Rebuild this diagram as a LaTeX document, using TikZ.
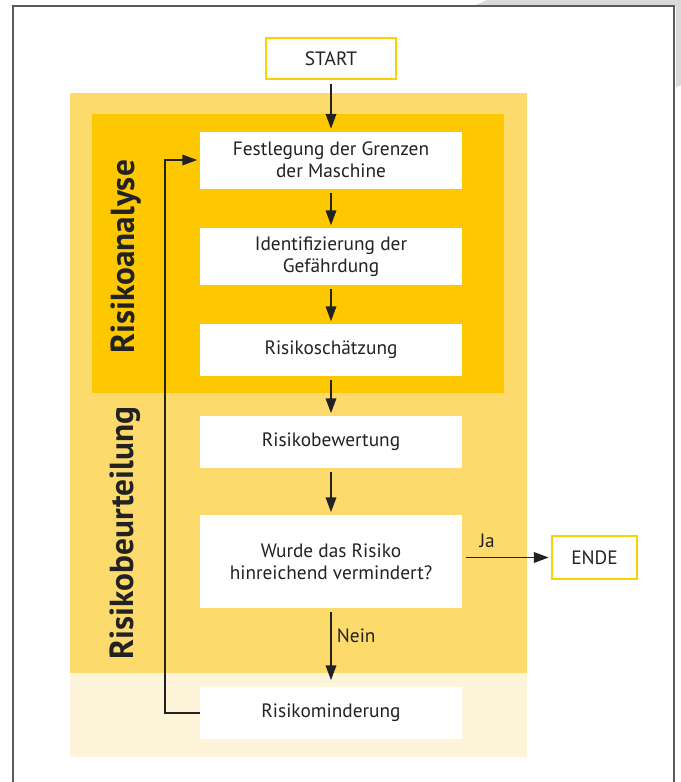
\documentclass[tikz,border=0pt]{standalone}
\usepackage{fontspec}
\setmainfont{PT Sans}
\usetikzlibrary{arrows.meta}

\definecolor{hell}{HTML}{FDDA6C}
\definecolor{dunkel}{HTML}{FDC800}
\definecolor{blass}{HTML}{FEF4DA}
\definecolor{gelb}{HTML}{FDD000}
\definecolor{rahmen}{HTML}{5A5A5A}
\definecolor{schatten}{HTML}{D9D9D9}
\definecolor{txt}{HTML}{222222}

\begin{document}
\begin{tikzpicture}[x = 0.75pt, y = -0.75pt,
    box/.style = {fill = white, minimum width = 196.5pt, align = center, inner sep = 0pt,
        font = \fontsize{14.5}{16.5}\selectfont, text = txt},
    term/.style = {box, draw = gelb, line width = 1.1pt},
    flow/.style = {-{Triangle[length = 11pt, width = 8pt]}, line width = 0.9pt, draw = txt,
        shorten < = 3pt, shorten > = 2pt},
    side/.style = {rotate = 90, inner sep = 0pt, text = txt,
        font = \fontsize{25}{28}\selectfont\bfseries}]
    \useasboundingbox (0,0) rectangle (681,782);
    % frame
    \fill[schatten] (474,6) -- (487,0) -- (681,0) -- (681,85) -- (676,87) -- (676,6) -- cycle;
    \draw[rahmen, line width = 1.2pt] (13,782) -- (13,6) -- (674,6) -- (674,782);
    % areas
    \fill[hell] (70,93) rectangle (527,673);
    \fill[dunkel] (92,114) rectangle (504,393);
    \fill[blass] (70,673) rectangle (527,757);
    \node[side] (analyse) at (126,257) {Risikoanalyse};
    \node[side] (beurteilung) at (125,533) {Risikobeurteilung};
    % steps
    \node[term, minimum width = 97.5pt, minimum height = 30.75pt] (start) at (331,58.5) {START};
    \node[box, minimum height = 42.75pt] (grenzen) at (331,160) {Festlegung der Grenzen\\der Maschine};
    \node[box, minimum height = 42.75pt] (gefahr) at (331,256.5) {Identifizierung der\\Gefährdung};
    \node[box, minimum height = 39pt] (schaetzung) at (331,350) {Risikoschätzung};
    \node[box, minimum height = 39pt] (bewertung) at (331,442) {Risikobewertung};
    \node[box, minimum height = 69.75pt] (frage) at (331,561.5) {Wurde das Risiko\\hinreichend vermindert?};
    \node[box, minimum height = 39pt] (minderung) at (331,713) {Risikominderung};
    \node[term, minimum width = 63.75pt, minimum height = 32.25pt] (ende) at (594.5,557.5) {ENDE};
    % arrows
    \draw[flow] (start) -- (grenzen);
    \draw[flow] (grenzen) -- (gefahr);
    \draw[flow] (gefahr) -- (schaetzung);
    \draw[flow] (schaetzung) -- (bewertung);
    \draw[flow] (bewertung) -- (frage);
    \draw[flow] (frage.east |- ende.west) -- node[pos = 0.28, above = 7pt, box, fill = none, minimum width = 0pt] {Ja} (ende.west);
    \draw[flow, shorten > = 5pt] (frage) -- node[pos = 0.35, right = 4pt, box, fill = none, minimum width = 0pt] {Nein} (minderung);
    \draw[flow, shorten < = 0pt] (minderung.west) -- (165,713) |- (grenzen.west);
\end{tikzpicture}
\end{document}
